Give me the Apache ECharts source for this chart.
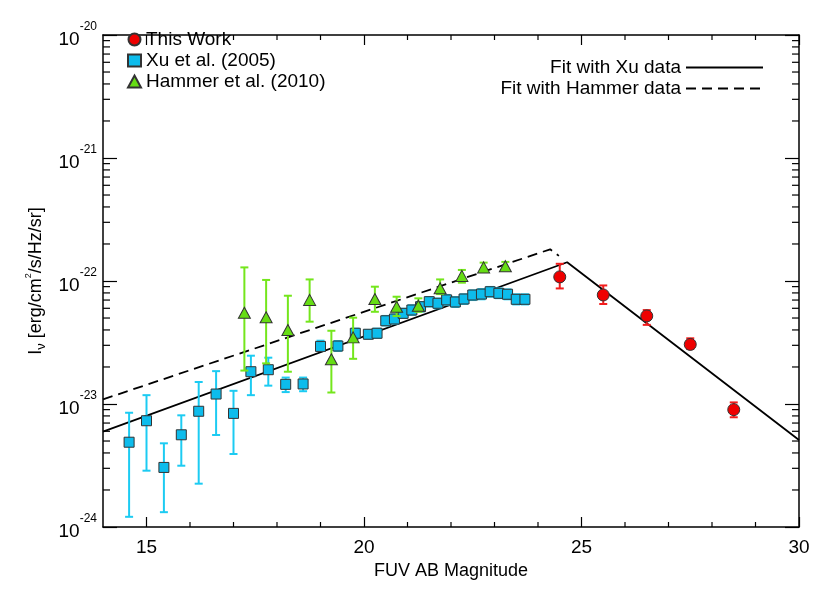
<!DOCTYPE html>
<html>
<head>
<meta charset="utf-8">
<script src="https://cdn.jsdelivr.net/npm/echarts@6/dist/echarts.min.js"></script>
<style>
  html, body { margin: 0; padding: 0; background: #fff; }
  #main { width: 830px; height: 593px; }
</style>
</head>
<body>
<div id="main"></div>
<script>
// This Work
const workMag = [24.5, 25.5, 26.5, 27.5, 28.5];
const workI = [1.08e-22, 7.7e-23, 5.2e-23, 3.05e-23, 9.0e-24];
const workLow = [8.7e-23, 6.5e-23, 4.4e-23, 2.8e-23, 7.8e-24];
const workHigh = [1.38e-22, 9.2e-23, 5.8e-23, 3.42e-23, 1.03e-23];

// Xu et al. (2005)
const xuMag = [14.6, 15.0, 15.4, 15.8, 16.2, 16.6, 17.0, 17.4, 17.8, 18.2, 18.6, 19.0,
  19.4, 19.8, 20.1, 20.3, 20.5, 20.7, 20.9, 21.1, 21.3, 21.5, 21.7, 21.9, 22.1, 22.3,
  22.5, 22.7, 22.9, 23.1, 23.3, 23.5, 23.7];
const xuI = [4.89e-24, 7.31e-24, 3.05e-24, 5.62e-24, 8.73e-24, 1.205e-23, 8.39e-24, 1.83e-23,
  1.90e-23, 1.445e-23, 1.455e-23, 2.94e-23, 2.96e-23, 3.76e-23, 3.69e-23, 3.76e-23, 4.75e-23,
  4.91e-23, 5.46e-23, 5.81e-23, 6.18e-23, 6.79e-23, 6.59e-23, 7.02e-23, 6.75e-23, 7.14e-23,
  7.69e-23, 7.83e-23, 8.18e-23, 7.94e-23, 7.80e-23, 7.10e-23, 7.10e-23];
const xuLow = [1.21e-24, 2.87e-24, 1.32e-24, 3.15e-24, 2.25e-24, 5.6e-24, 3.92e-24, 1.18e-23,
  1.41e-23, 1.25e-23, 1.27e-23, 2.70e-23, 2.7e-23, 3.45e-23, 3.4e-23, 3.45e-23, 4.35e-23,
  4.5e-23, 5.0e-23, 5.3e-23, 5.65e-23, 6.2e-23, 6.0e-23, 6.4e-23, 6.15e-23, 6.5e-23,
  7.0e-23, 7.1e-23, 7.45e-23, 7.25e-23, 7.1e-23, 6.45e-23, 6.45e-23];
const xuHigh = [8.49e-24, 1.18e-23, 4.79e-24, 8.09e-24, 1.51e-23, 1.85e-23, 1.28e-23, 2.47e-23,
  2.38e-23, 1.64e-23, 1.64e-23, 3.27e-23, 3.25e-23, 4.1e-23, 4.0e-23, 4.1e-23, 5.2e-23,
  5.35e-23, 5.95e-23, 6.35e-23, 6.75e-23, 7.4e-23, 7.2e-23, 7.7e-23, 7.4e-23, 7.8e-23,
  8.4e-23, 8.6e-23, 8.95e-23, 8.7e-23, 8.55e-23, 7.8e-23, 7.8e-23];

// Hammer et al. (2010)
const hamMag = [17.25, 17.75, 18.25, 18.75, 19.25, 19.75, 20.25, 20.75, 21.25, 21.75, 22.25, 22.75, 23.25];
const hamI = [5.52e-23, 5.07e-23, 4.0e-23, 7.02e-23, 2.31e-23, 3.48e-23, 7.14e-23, 6.18e-23,
  6.30e-23, 8.73e-23, 1.10e-22, 1.29e-22, 1.32e-22];
const hamLow = [1.87e-23, 2.14e-23, 1.83e-23, 4.67e-23, 1.24e-23, 2.33e-23, 5.62e-23, 5.19e-23,
  5.62e-23, 7.83e-23, 9.69e-23, 1.21e-22, 1.23e-22];
const hamHigh = [1.29e-22, 1.02e-22, 7.59e-23, 1.03e-22, 3.94e-23, 5.03e-23, 8.99e-23, 7.45e-23,
  7.23e-23, 1.03e-22, 1.23e-22, 1.41e-22, 1.43e-22];

// fits
const fitXuMag = [14, 24.67, 30];
const fitXuI = [5.96e-24, 1.42e-22, 5.09e-24];
const fitHamMag = [14, 24.28, 24.48];
const fitHamI = [1.09e-23, 1.81e-22, 1.60e-22];

// axis ranges and ticks
const xMin = 14;
const xMax = 30;
const xMajor = [15, 20, 25, 30];
const xMinor = [16, 17, 18, 19, 21, 22, 23, 24, 26, 27, 28, 29];
const yMin = 1e-24;
const yMax = 1e-20;
const yMinor = [];
[1e-24, 1e-23, 1e-22, 1e-21].forEach(function (d) {
  [2, 3, 4, 5, 6, 7, 8, 9].forEach(function (k) { yMinor.push(k * d); });
});

// echarts rounds tiny numbers to 0 on log axes, so plot in units of 1e-24
const UNIT = 1e-24;
const UNIT_EXP = -24;
const FONT = 'Liberation Sans';

function s(v) { return v / UNIT; }
function zip(a, b) { return a.map(function (v, i) { return [v, s(b[i])]; }); }
function zip3(a, b, c) { return a.map(function (v, i) { return [v, s(b[i]), s(c[i])]; }); }

// 误差棒
function errorBar(color) {
  return function (params, api) {
    const x = api.value(0);
    const lo = api.coord([x, api.value(1)]);
    const hi = api.coord([x, api.value(2)]);
    const w = 4;
    const st = { stroke: color, lineWidth: 2 };
    return {
      type: 'group',
      children: [
        { type: 'line', shape: { x1: lo[0], y1: lo[1], x2: hi[0], y2: hi[1] }, style: st },
        { type: 'line', shape: { x1: lo[0] - w, y1: lo[1], x2: lo[0] + w, y2: lo[1] }, style: st },
        { type: 'line', shape: { x1: hi[0] - w, y1: hi[1], x2: hi[0] + w, y2: hi[1] }, style: st }
      ]
    };
  };
}

const chart = echarts.init(document.getElementById('main'));

const axisLine = { lineStyle: { color: '#000', width: 1.5 } };
const tickStyle = { color: '#000', width: 1.2 };
const tickLine = { stroke: '#000', lineWidth: 1.2 };

chart.setOption({
  animation: false,
  textStyle: { fontFamily: FONT },
  grid: { left: 103, right: 31, top: 35, bottom: 66 },
  legend: [
    {
      data: ['This Work', 'Xu et al. (2005)', 'Hammer et al. (2010)'],
      orient: 'vertical',
      left: 122,
      top: 24,
      itemGap: 0,
      itemWidth: 13,
      itemHeight: 12,
      textStyle: { fontSize: 19, color: '#000', lineHeight: 21, fontFamily: FONT }
    },
    {
      data: ['Fit with Xu data', 'Fit with Hammer data'],
      orient: 'vertical',
      right: 61,
      top: 52,
      align: 'right',
      itemGap: 0,
      itemWidth: 77,
      itemHeight: 14,
      itemStyle: { opacity: 0 },
      textStyle: { fontSize: 19, color: '#000', lineHeight: 21, fontFamily: FONT }
    }
  ],
  xAxis: [
    {
      type: 'value',
      min: xMin, max: xMax,
      name: 'FUV AB Magnitude',
      nameLocation: 'middle',
      nameGap: 30,
      nameTextStyle: { fontSize: 18, color: '#000', fontFamily: FONT },
      axisLine: axisLine,
      splitLine: { show: false },
      axisTick: { inside: true, length: 10, lineStyle: tickStyle, customValues: xMajor },
      axisLabel: { fontSize: 19, color: '#000', margin: 11, customValues: xMajor }
    },
    {
      type: 'value', position: 'top',
      min: xMin, max: xMax,
      axisLine: axisLine,
      splitLine: { show: false },
      axisTick: { inside: true, length: 10, lineStyle: tickStyle, customValues: xMajor },
      axisLabel: { show: false }
    }
  ],
  yAxis: [
    {
      type: 'log', logBase: 10,
      min: s(yMin), max: s(yMax),
      name: '{a|I}{sub|ν}{a| [erg/cm}{sup|2}{a|/s/Hz/sr]}',
      nameLocation: 'middle',
      nameGap: 53,
      nameRotate: 90,
      nameTextStyle: {
        color: '#000',
        rich: {
          a: { fontSize: 18, color: '#000', fontFamily: FONT, lineHeight: 24 },
          sub: { fontSize: 13, color: '#000', fontFamily: FONT, verticalAlign: 'bottom', lineHeight: 24 },
          sup: { fontSize: 9, color: '#000', fontFamily: FONT, verticalAlign: 'top', lineHeight: 24 }
        }
      },
      axisLine: axisLine,
      splitLine: { show: false },
      axisTick: { inside: true, length: 14, lineStyle: tickStyle },
      axisLabel: {
        margin: 6,
        formatter: function (v) {
          return '{b|10}{s|' + (Math.round(Math.log10(v)) + UNIT_EXP) + '}';
        },
        rich: {
          b: { fontSize: 19, color: '#000', fontFamily: FONT, lineHeight: 28, verticalAlign: 'bottom' },
          s: { fontSize: 12, color: '#000', fontFamily: FONT, lineHeight: 28, verticalAlign: 'top' }
        }
      }
    },
    {
      type: 'log', logBase: 10, position: 'right',
      min: s(yMin), max: s(yMax),
      axisLine: axisLine,
      splitLine: { show: false },
      axisTick: { inside: true, length: 14, lineStyle: tickStyle },
      axisLabel: { show: false }
    }
  ],
  series: [
    {
      // y轴小刻度
      type: 'custom',
      silent: true,
      z: 1,
      data: yMinor.map(function (v) { return [xMin, s(v)]; }),
      encode: { x: 0, y: 1 },
      renderItem: function (params, api) {
        const l = api.coord([xMin, api.value(1)]);
        const r = api.coord([xMax, api.value(1)]);
        return {
          type: 'group',
          children: [
            { type: 'line', shape: { x1: l[0], y1: l[1], x2: l[0] + 7, y2: l[1] }, style: tickLine },
            { type: 'line', shape: { x1: r[0] - 7, y1: r[1], x2: r[0], y2: r[1] }, style: tickLine }
          ]
        };
      }
    },
    {
      // x轴小刻度
      type: 'custom',
      silent: true,
      z: 1,
      data: xMinor.map(function (v) { return [v, s(yMin)]; }),
      encode: { x: 0, y: 1 },
      renderItem: function (params, api) {
        const b = api.coord([api.value(0), s(yMin)]);
        const t = api.coord([api.value(0), s(yMax)]);
        return {
          type: 'group',
          children: [
            { type: 'line', shape: { x1: b[0], y1: b[1], x2: b[0], y2: b[1] - 5 }, style: tickLine },
            { type: 'line', shape: { x1: t[0], y1: t[1], x2: t[0], y2: t[1] + 5 }, style: tickLine }
          ]
        };
      }
    },
    {
      name: 'Fit with Xu data',
      type: 'line',
      data: zip(fitXuMag, fitXuI),
      symbol: 'none',
      lineStyle: { color: '#000', width: 1.8 },
      itemStyle: { color: '#000' },
      z: 3
    },
    {
      name: 'Fit with Hammer data',
      type: 'line',
      data: zip(fitHamMag, fitHamI),
      symbol: 'none',
      lineStyle: { color: '#000', width: 1.8, type: [10, 6] },
      itemStyle: { color: '#000' },
      z: 3
    },
    {
      type: 'custom',
      data: zip3(xuMag, xuLow, xuHigh),
      encode: { x: 0, y: [1, 2] },
      renderItem: errorBar('#1ccbf2'),
      z: 4
    },
    {
      name: 'Xu et al. (2005)',
      type: 'scatter',
      data: zip(xuMag, xuI),
      symbol: 'rect',
      symbolSize: 10,
      itemStyle: { color: '#0dbcec', borderColor: '#333', borderWidth: 1, opacity: 1 },
      z: 5
    },
    {
      type: 'custom',
      data: zip3(hamMag, hamLow, hamHigh),
      encode: { x: 0, y: [1, 2] },
      renderItem: errorBar('#74e61c'),
      z: 6
    },
    {
      name: 'Hammer et al. (2010)',
      type: 'scatter',
      data: zip(hamMag, hamI),
      symbol: 'triangle',
      symbolSize: [12, 11],
      itemStyle: { color: '#66dd14', borderColor: '#333', borderWidth: 1, opacity: 1 },
      z: 7
    },
    {
      type: 'custom',
      data: zip3(workMag, workLow, workHigh),
      encode: { x: 0, y: [1, 2] },
      renderItem: errorBar('#f21c1c'),
      z: 8
    },
    {
      name: 'This Work',
      type: 'scatter',
      data: zip(workMag, workI),
      symbol: 'circle',
      symbolSize: 12,
      itemStyle: { color: '#ee0000', borderColor: '#333', borderWidth: 1, opacity: 1 },
      z: 9
    }
  ]
});
</script>
</body>
</html>
